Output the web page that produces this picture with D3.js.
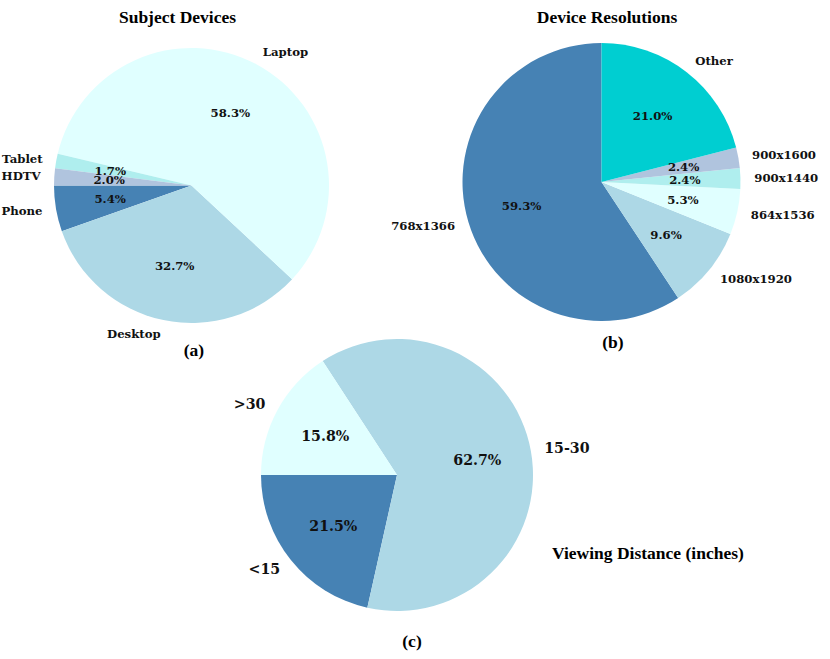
<!DOCTYPE html>
<html>
<head>
<meta charset="utf-8">
<script src="https://cdn.jsdelivr.net/npm/d3@7"></script>
<style>
  html, body { margin: 0; padding: 0; background: #fff; }
  svg { display: block; }
</style>
</head>
<body>
<svg id="chart" width="830" height="659"></svg>
<script>
// ---- Data (counter-clockwise order, as drawn from start angle) ----
const devicesLabels = ["Phone", "Desktop", "Laptop", "Tablet", "HDTV"];
const devicesValues = [5.4, 32.7, 58.3, 1.7, 2.0];
const devicesColors = ["#4682b4", "#add8e6", "#e0ffff", "#afeeee", "#b0c4de"];

const resLabels = ["768x1366", "1080x1920", "864x1536", "900x1440", "900x1600", "Other"];
const resValues = [59.3, 9.6, 5.3, 2.4, 2.4, 21.0];
const resColors = ["#4682b4", "#add8e6", "#e0ffff", "#afeeee", "#b0c4de", "#00ced1"];

const distLabels = ["<15", "15-30", ">30"];
const distValues = [21.5, 62.7, 15.8];
const distColors = ["#4682b4", "#add8e6", "#e0ffff"];

const svg = d3.select("#chart");
const SERIF_TIMES = "'Liberation Serif', 'Times New Roman', serif";
const SERIF_DEJAVU = "'DejaVu Serif', serif";

function drawPie(opts) {
  const { cx, cy, r, labels, values, colors, startDeg, labelSize, pctSize } = opts;
  const g = svg.append("g").attr("transform", `translate(${cx},${cy})`);
  const start = (90 - startDeg) * Math.PI / 180;
  const pie = d3.pie().sort(null).value(d => d.v)
    .startAngle(start).endAngle(start - 2 * Math.PI);
  const data = labels.map((l, i) => ({ l, v: values[i], c: colors[i] }));
  const arcs = pie(data);
  const arc = d3.arc().innerRadius(0).outerRadius(r);
  g.selectAll("path.w").data(arcs).join("path")
    .attr("class", "w")
    .attr("d", arc)
    .attr("fill", d => d.data.c);
  const mid = d => (d.startAngle + d.endAngle) / 2;
  g.selectAll("text.lab").data(arcs).join("text")
    .attr("class", "lab")
    .attr("x", d => Math.sin(mid(d)) * r * 1.1)
    .attr("y", d => -Math.cos(mid(d)) * r * 1.1)
    .attr("text-anchor", d => Math.sin(mid(d)) >= 0 ? "start" : "end")
    .attr("dominant-baseline", "central")
    .attr("font-family", SERIF_DEJAVU)
    .attr("font-size", labelSize)
    .attr("font-weight", "bold")
    .attr("fill", "#111")
    .text(d => d.data.l);
  g.selectAll("text.pct").data(arcs).join("text")
    .attr("class", "pct")
    .attr("x", d => Math.sin(mid(d)) * r * 0.6)
    .attr("y", d => -Math.cos(mid(d)) * r * 0.6)
    .attr("text-anchor", "middle")
    .attr("dominant-baseline", "central")
    .attr("font-family", SERIF_DEJAVU)
    .attr("font-size", pctSize)
    .attr("font-weight", "bold")
    .attr("fill", "#111")
    .text(d => d.data.v.toFixed(1) + "%");
}

function text(x, y, s, size, anchor) {
  svg.append("text")
    .attr("x", x).attr("y", y)
    .attr("text-anchor", anchor || "middle")
    .attr("dominant-baseline", "central")
    .attr("font-family", SERIF_TIMES)
    .attr("font-size", size)
    .attr("font-weight", "bold")
    .attr("fill", "#000")
    .text(s);
}

// (a) Subject Devices
drawPie({ cx: 191.5, cy: 185.5, r: 137.5, labels: devicesLabels, values: devicesValues,
  colors: devicesColors, startDeg: 180, labelSize: 11.7, pctSize: 11.7 });
text(177.5, 17, "Subject Devices", 17.5);
text(194, 350, "(a)", 17.5);

// (b) Device Resolutions
drawPie({ cx: 601.5, cy: 182, r: 139, labels: resLabels, values: resValues,
  colors: resColors, startDeg: 90, labelSize: 11.7, pctSize: 11.7 });
text(607, 17, "Device Resolutions", 17.5);
text(613, 342, "(b)", 17.5);

// (c) Viewing Distance
drawPie({ cx: 397, cy: 475, r: 136, labels: distLabels, values: distValues,
  colors: distColors, startDeg: 180, labelSize: 14.2, pctSize: 14.2 });
text(552, 553, "Viewing Distance (inches)", 17.5, "start");
text(412, 641, "(c)", 17.5);
</script>
</body>
</html>
